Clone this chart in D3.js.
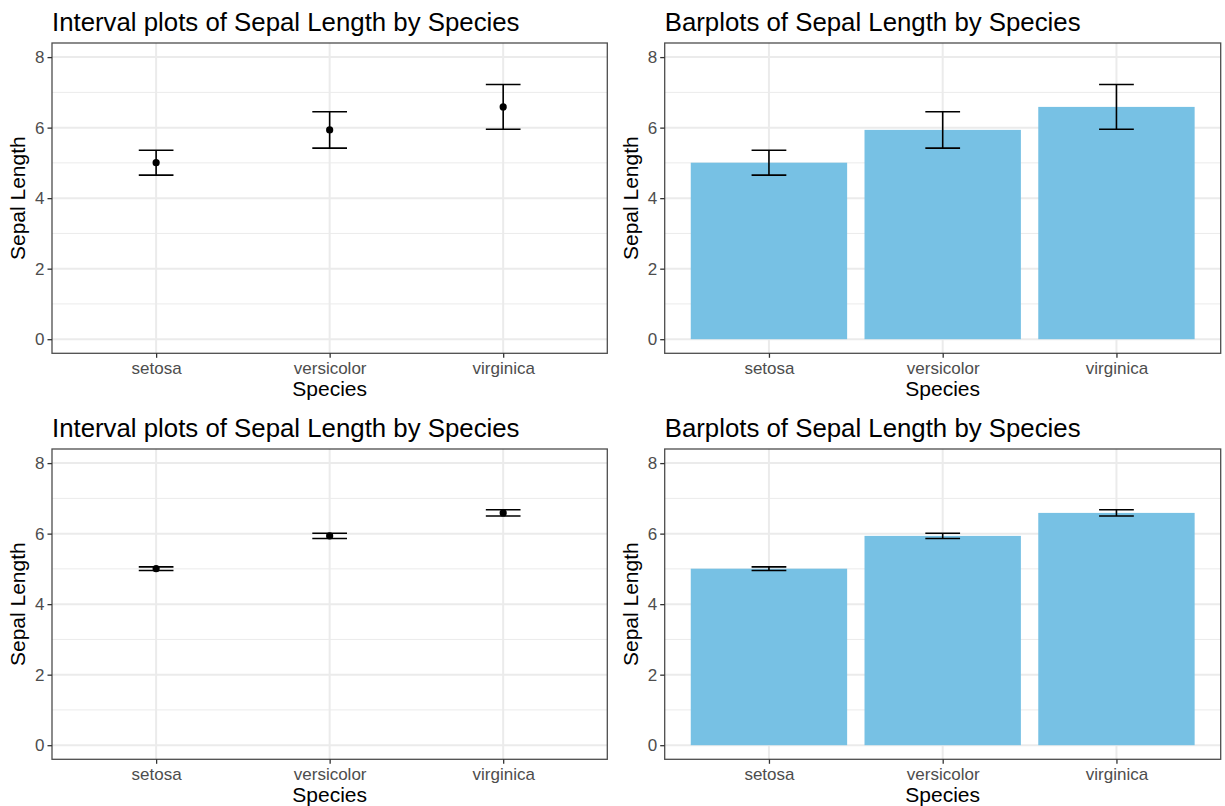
<!DOCTYPE html>
<html><head><meta charset="utf-8">
<script src="https://cdn.jsdelivr.net/npm/d3@7"></script>
<style>body{margin:0;background:#fff;} svg{display:block;font-family:"Liberation Sans",Arial,sans-serif;}</style>
</head><body>
<script>
// Data
const species = ["setosa", "versicolor", "virginica"];
const meanLength = [5.006, 5.936, 6.588];
const sdLength = [0.352, 0.516, 0.636];   // top row: mean ± SD
const seLength = [0.050, 0.073, 0.090];   // bottom row: mean ± SE
const yTicks = [0, 2, 4, 6, 8];
const yMinorTicks = [1, 3, 5, 7];
const titles = ["Interval plots of Sepal Length by Species", "Barplots of Sepal Length by Species"];

const W = 1225, H = 806;
const svg = d3.select("body").append("svg").attr("width", W).attr("height", H);

const panels = [
  {type: "interval", err: sdLength, x0: 52, x1: 607.3, y0: 43, y1: 353.3},
  {type: "bar", err: sdLength, x0: 664.7, x1: 1220.7, y0: 43, y1: 353.3},
  {type: "interval", err: seLength, x0: 52, x1: 607.3, y0: 449, y1: 759.3},
  {type: "bar", err: seLength, x0: 664.7, x1: 1220.7, y0: 449, y1: 759.3}
];

panels.forEach(p => {
  const g = svg.append("g");
  const x = d3.scaleLinear().domain([0.4, 3.6]).range([p.x0, p.x1]);
  const y = d3.scaleLinear().domain([-0.4, 8.4]).range([p.y1, p.y0]);
  const unit = x(2) - x(1);

  // grid
  g.selectAll(".minor").data(yMinorTicks).join("line")
    .attr("x1", p.x0).attr("x2", p.x1).attr("y1", d => y(d)).attr("y2", d => y(d))
    .attr("stroke", "#ebebeb").attr("stroke-width", 1);
  g.selectAll(".major").data(yTicks).join("line")
    .attr("x1", p.x0).attr("x2", p.x1).attr("y1", d => y(d)).attr("y2", d => y(d))
    .attr("stroke", "#ebebeb").attr("stroke-width", 2);
  g.selectAll(".vmajor").data(species).join("line")
    .attr("x1", (d, i) => x(i + 1)).attr("x2", (d, i) => x(i + 1)).attr("y1", p.y0).attr("y2", p.y1)
    .attr("stroke", "#ebebeb").attr("stroke-width", 2);

  // bars
  if (p.type === "bar") {
    g.selectAll(".bar").data(meanLength).join("rect")
      .attr("x", (d, i) => x(i + 1 - 0.45)).attr("width", unit * 0.9)
      .attr("y", d => y(d)).attr("height", d => y(0) - y(d))
      .attr("fill", "#77c1e4");
  }

  // error bars
  const eb = g.selectAll(".eb").data(meanLength).join("g");
  const hw = 0.1;
  eb.append("line")
    .attr("x1", (d, i) => x(i + 1)).attr("x2", (d, i) => x(i + 1))
    .attr("y1", (d, i) => y(d - p.err[i])).attr("y2", (d, i) => y(d + p.err[i]))
    .attr("stroke", "#000").attr("stroke-width", 1.6);
  eb.append("line")
    .attr("x1", (d, i) => x(i + 1 - hw)).attr("x2", (d, i) => x(i + 1 + hw))
    .attr("y1", (d, i) => y(d - p.err[i])).attr("y2", (d, i) => y(d - p.err[i]))
    .attr("stroke", "#000").attr("stroke-width", 1.6);
  eb.append("line")
    .attr("x1", (d, i) => x(i + 1 - hw)).attr("x2", (d, i) => x(i + 1 + hw))
    .attr("y1", (d, i) => y(d + p.err[i])).attr("y2", (d, i) => y(d + p.err[i]))
    .attr("stroke", "#000").attr("stroke-width", 1.6);
  if (p.type === "interval") {
    g.selectAll(".pt").data(meanLength).join("circle")
      .attr("cx", (d, i) => x(i + 1)).attr("cy", d => y(d)).attr("r", 3.6).attr("fill", "#000");
  }

  // border
  g.append("rect").attr("x", p.x0).attr("y", p.y0).attr("width", p.x1 - p.x0).attr("height", p.y1 - p.y0)
    .attr("fill", "none").attr("stroke", "#4d4d4d").attr("stroke-width", 1.3);

  // y axis
  const ya = g.append("g").attr("transform", `translate(${p.x0},0)`)
    .call(d3.axisLeft(y).tickValues(yTicks).tickSize(4.5).tickPadding(3).tickFormat(d3.format("d")));
  ya.select(".domain").remove();
  ya.selectAll(".tick line").attr("stroke", "#333").attr("stroke-width", 1.3);
  ya.selectAll(".tick text").attr("fill", "#4d4d4d").style("font-size", "17px")
    .style("font-family", "'Liberation Sans', Arial, sans-serif");

  // x axis
  const xa = g.append("g").attr("transform", `translate(0,${p.y1})`)
    .call(d3.axisBottom(x).tickValues([1, 2, 3]).tickSize(4.5).tickPadding(4).tickFormat(d => species[d - 1]));
  xa.select(".domain").remove();
  xa.selectAll(".tick line").attr("stroke", "#333").attr("stroke-width", 1.3);
  xa.selectAll(".tick text").attr("fill", "#4d4d4d").style("font-size", "17px")
    .style("font-family", "'Liberation Sans', Arial, sans-serif");

  // axis titles
  g.append("text").attr("x", (p.x0 + p.x1) / 2).attr("y", p.y1 + 43)
    .attr("text-anchor", "middle").style("font-size", "21px").attr("fill", "#000").text("Species");
  g.append("text").attr("transform", `translate(${p.x0 - 27},${(p.y0 + p.y1) / 2}) rotate(-90)`)
    .attr("text-anchor", "middle").style("font-size", "21px").attr("fill", "#000").text("Sepal Length");

  // title
  g.append("text").attr("x", p.x0).attr("y", p.y0 - 12)
    .style("font-size", "25.8px").attr("fill", "#000").text(p.type === "bar" ? titles[1] : titles[0]);
});
</script>
</body></html>
